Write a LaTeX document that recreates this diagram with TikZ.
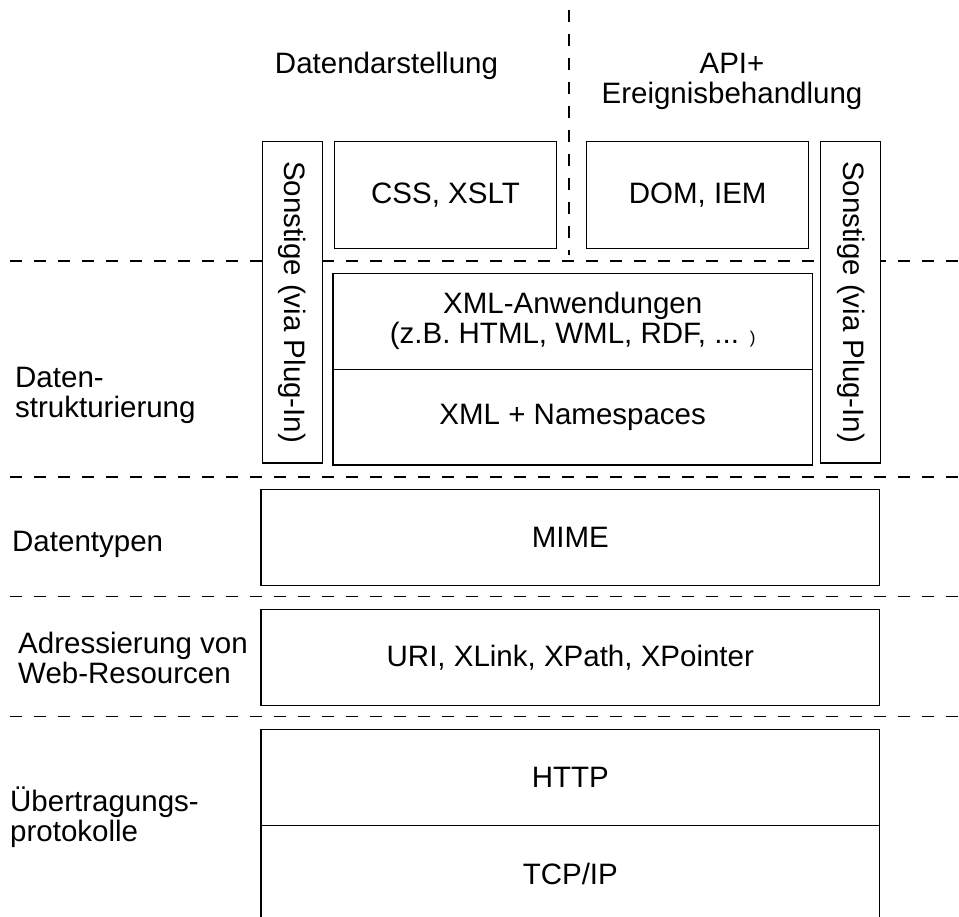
\documentclass[tikz,border=0pt]{standalone}
\usepackage{fontspec}
\setmainfont{Liberation Sans}
\begin{document}
\begin{tikzpicture}[x=1pt,y=-1pt,
  every node/.style={font=\fontsize{29.5}{30}\selectfont},
  layer/.style={draw, line width=1.4pt, fill=white, inner sep=0pt, outer sep=0pt, align=center},
  sep/.style={line width=1.3pt, dash pattern=on 12pt off 12pt},
  lbl/.style={align=left, anchor=west, inner sep=0pt}]
\path[use as bounding box] (0,0) rectangle (959,917);
\clip (0,0) rectangle (959,917);
% separators
\coordinate (h1a) at (10,261);   \coordinate (h1b) at (959,261);
\coordinate (h2a) at (10,477);   \coordinate (h2b) at (959,477);
\coordinate (h3a) at (10,596.5); \coordinate (h3b) at (959,596.5);
\coordinate (h4a) at (10,716.7); \coordinate (h4b) at (959,716.7);
\coordinate (va) at (569,10);    \coordinate (vb) at (569,255);
\draw[sep] (h1a) -- (h1b);
\draw[sep] (h2a) -- (h2b);
\draw[sep] (h3a) -- (h3b);
\draw[sep] (h4a) -- (h4b);
\draw[sep] (va) -- (vb);
% column headings
\node[anchor=base, inner sep=0pt] (hdL) at (386.5,73.3) {Datendarstellung};
\node[inner sep=0pt, align=center] (hdR) at (732,81) {API+\\Ereignisbehandlung};
% layer labels
\node[lbl] (lDS) at (15,395.6) {Daten-\\strukturierung};
\node[lbl] (lDT) at (12,544.6) {Datentypen};
\node[lbl] (lAW) at (18,657.6) {Adressierung von\\Web-Resourcen};
\node[lbl] (lUP) at (10,817.6) {Übertragungs-\\protokolle};
% boxes
\node[layer, rotate=-90, minimum width=321.7, minimum height=59.6] (sonL) at (292.5,302.2) {Sonstige (via Plug-In)};
\node[layer, rotate=-90, minimum width=321.7, minimum height=60] (sonR) at (850.7,302.2) {Sonstige (via Plug-In)};
\node[layer, minimum width=222.4, minimum height=107.4] (css) at (445.5,195) {CSS, XSLT};
\node[layer, minimum width=222, minimum height=107.4] (dom) at (697.7,195) {DOM, IEM};
\node[layer, minimum width=479.5, minimum height=96] (xmlA) at (572.7,321.3) {XML-Anwendungen\\(z.B. HTML, WML, RDF, ... {\fontsize{17}{17}\selectfont )}};
\node[layer, minimum width=479.5, minimum height=95.7] (xmlN) at (572.7,417.1) {XML + Namespaces};
\node[layer, minimum width=618.5, minimum height=96] (mime) at (570.3,537.3) {MIME};
\node[layer, minimum width=618.5, minimum height=96] (uri) at (570.3,657.3) {URI, XLink, XPath, XPointer};
\node[layer, minimum width=618.5, minimum height=96.4] (http) at (570.3,777.5) {HTTP};
\node[layer, minimum width=618.5, minimum height=96] (tcp) at (570.3,873.7) {TCP/IP};
\end{tikzpicture}
\end{document}
